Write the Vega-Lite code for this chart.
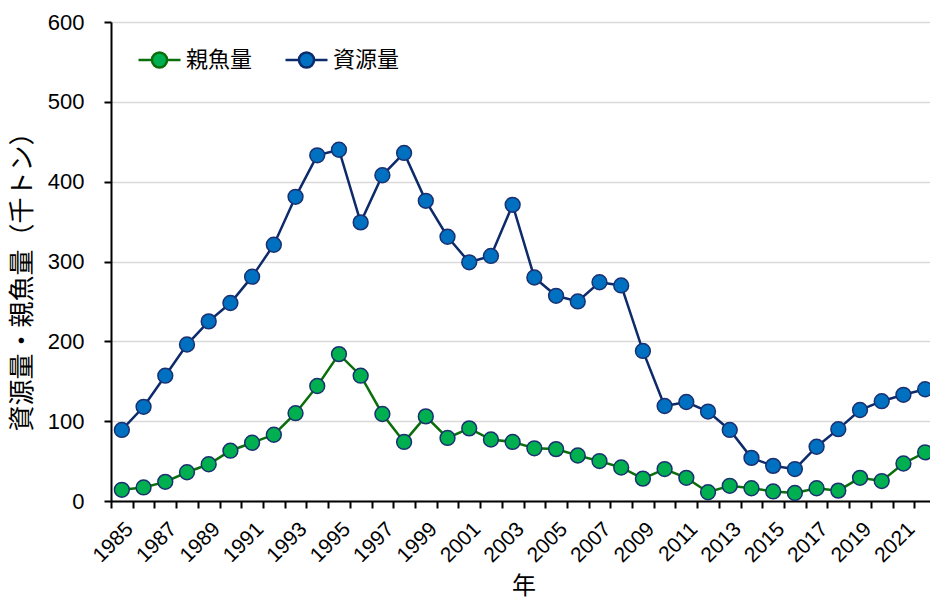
{
  "$schema": "https://vega.github.io/schema/vega-lite/v6.json",
  "width": 819,
  "height": 479,
  "autosize": "none",
  "padding": {"left": 111, "top": 22, "right": 0, "bottom": 103},
  "background": "white",
  "config": {
    "view": {"stroke": null},
    "font": "Liberation Sans",
    "axis": {"labelColor": "black", "titleColor": "black", "titleFontWeight": "normal"},
    "legend": {"labelFont": "Noto Sans CJK JP"}
  },
  "data": {
    "values": [
      {"year": "1985", "series": "資源量", "value": 89},
      {"year": "1986", "series": "資源量", "value": 118},
      {"year": "1987", "series": "資源量", "value": 157},
      {"year": "1988", "series": "資源量", "value": 196},
      {"year": "1989", "series": "資源量", "value": 225},
      {"year": "1990", "series": "資源量", "value": 248},
      {"year": "1991", "series": "資源量", "value": 281},
      {"year": "1992", "series": "資源量", "value": 321},
      {"year": "1993", "series": "資源量", "value": 381},
      {"year": "1994", "series": "資源量", "value": 433},
      {"year": "1995", "series": "資源量", "value": 440},
      {"year": "1996", "series": "資源量", "value": 349},
      {"year": "1997", "series": "資源量", "value": 408},
      {"year": "1998", "series": "資源量", "value": 436},
      {"year": "1999", "series": "資源量", "value": 376},
      {"year": "2000", "series": "資源量", "value": 331},
      {"year": "2001", "series": "資源量", "value": 299},
      {"year": "2002", "series": "資源量", "value": 307},
      {"year": "2003", "series": "資源量", "value": 371},
      {"year": "2004", "series": "資源量", "value": 280},
      {"year": "2005", "series": "資源量", "value": 257},
      {"year": "2006", "series": "資源量", "value": 250},
      {"year": "2007", "series": "資源量", "value": 274},
      {"year": "2008", "series": "資源量", "value": 270},
      {"year": "2009", "series": "資源量", "value": 188},
      {"year": "2010", "series": "資源量", "value": 119},
      {"year": "2011", "series": "資源量", "value": 124},
      {"year": "2012", "series": "資源量", "value": 112},
      {"year": "2013", "series": "資源量", "value": 89},
      {"year": "2014", "series": "資源量", "value": 54},
      {"year": "2015", "series": "資源量", "value": 44},
      {"year": "2016", "series": "資源量", "value": 40},
      {"year": "2017", "series": "資源量", "value": 68},
      {"year": "2018", "series": "資源量", "value": 90},
      {"year": "2019", "series": "資源量", "value": 114},
      {"year": "2020", "series": "資源量", "value": 125},
      {"year": "2021", "series": "資源量", "value": 133},
      {"year": "2022", "series": "資源量", "value": 140},
      {"year": "1985", "series": "親魚量", "value": 14},
      {"year": "1986", "series": "親魚量", "value": 17},
      {"year": "1987", "series": "親魚量", "value": 24},
      {"year": "1988", "series": "親魚量", "value": 36},
      {"year": "1989", "series": "親魚量", "value": 46},
      {"year": "1990", "series": "親魚量", "value": 63},
      {"year": "1991", "series": "親魚量", "value": 73},
      {"year": "1992", "series": "親魚量", "value": 83},
      {"year": "1993", "series": "親魚量", "value": 110},
      {"year": "1994", "series": "親魚量", "value": 144},
      {"year": "1995", "series": "親魚量", "value": 184},
      {"year": "1996", "series": "親魚量", "value": 157},
      {"year": "1997", "series": "親魚量", "value": 109},
      {"year": "1998", "series": "親魚量", "value": 74},
      {"year": "1999", "series": "親魚量", "value": 106},
      {"year": "2000", "series": "親魚量", "value": 79},
      {"year": "2001", "series": "親魚量", "value": 91},
      {"year": "2002", "series": "親魚量", "value": 77},
      {"year": "2003", "series": "親魚量", "value": 74},
      {"year": "2004", "series": "親魚量", "value": 66},
      {"year": "2005", "series": "親魚量", "value": 65},
      {"year": "2006", "series": "親魚量", "value": 57},
      {"year": "2007", "series": "親魚量", "value": 50},
      {"year": "2008", "series": "親魚量", "value": 42},
      {"year": "2009", "series": "親魚量", "value": 28},
      {"year": "2010", "series": "親魚量", "value": 40},
      {"year": "2011", "series": "親魚量", "value": 29},
      {"year": "2012", "series": "親魚量", "value": 11},
      {"year": "2013", "series": "親魚量", "value": 19},
      {"year": "2014", "series": "親魚量", "value": 16},
      {"year": "2015", "series": "親魚量", "value": 12},
      {"year": "2016", "series": "親魚量", "value": 10},
      {"year": "2017", "series": "親魚量", "value": 16},
      {"year": "2018", "series": "親魚量", "value": 13},
      {"year": "2019", "series": "親魚量", "value": 29},
      {"year": "2020", "series": "親魚量", "value": 25},
      {"year": "2021", "series": "親魚量", "value": 47},
      {"year": "2022", "series": "親魚量", "value": 61}
    ]
  },
  "encoding": {
    "x": {
      "field": "year",
      "type": "nominal",
      "scale": {"range": [0, 825], "paddingInner": 0, "paddingOuter": 0},
      "axis": {
        "title": "年",
        "titleFont": "Noto Sans CJK JP",
        "titleFontSize": 24,
        "titleBaseline": "top",
        "titleY": 73,
        "labelAngle": -45,
        "labelFontSize": 21,
        "labelPadding": 10,
        "labelOverlap": false,
        "labelExpr": "toNumber(datum.value) % 2 == 1 ? datum.label : ''",
        "tickBand": "extent",
        "tickColor": "black",
        "tickWidth": 2,
        "tickSize": 7,
        "domainColor": "black",
        "domainWidth": 2,
        "grid": false
      }
    },
    "y": {
      "field": "value",
      "type": "quantitative",
      "scale": {"domain": [0, 600], "nice": false},
      "axis": {
        "title": "資源量・親魚量（千トン）",
        "titleFont": "Noto Sans CJK JP",
        "titleFontSize": 26,
        "titlePadding": 12,
        "titleY": 253,
        "values": [0, 100, 200, 300, 400, 500, 600],
        "labelFontSize": 22,
        "labelPadding": 20,
        "tickColor": "black",
        "tickWidth": 2,
        "tickSize": 7,
        "domainColor": "black",
        "domainWidth": 2,
        "gridColor": "#D9D9D9",
        "gridWidth": 1.5
      }
    }
  },
  "layer": [
    {
      "mark": {"type": "line", "strokeWidth": 2.5},
      "encoding": {
        "stroke": {
          "field": "series",
          "type": "nominal",
          "scale": {"domain": ["親魚量", "資源量"], "range": ["#0A6E0A", "#0D2A6B"]},
          "legend": {
            "title": null,
            "orient": "none",
            "legendX": 26,
            "legendY": 15,
            "direction": "horizontal",
            "symbolType": "M-1,0H-0.36A0.36,0.36 0 1,1 0.36,0H1M0.36,0A0.36,0.36 0 1,1 -0.36,0",
            "symbolSize": 1764,
            "symbolStrokeWidth": 2.5,
            "labelFontSize": 22,
            "labelColor": "black",
            "labelOffset": 4,
            "columnPadding": 27
          }
        }
      }
    },
    {
      "mark": {"type": "point", "filled": true, "size": 220, "stroke": "#1A3070", "strokeWidth": 1.5, "opacity": 1},
      "encoding": {
        "fill": {
          "field": "series",
          "type": "nominal",
          "scale": {"domain": ["親魚量", "資源量"], "range": ["#00B050", "#0070C0"]},
          "legend": {
            "title": null,
            "orient": "none",
            "legendX": 26,
            "legendY": 15,
            "direction": "horizontal",
            "symbolType": "M-1,0H-0.36A0.36,0.36 0 1,1 0.36,0H1M0.36,0A0.36,0.36 0 1,1 -0.36,0",
            "symbolSize": 1764,
            "symbolStrokeWidth": 2.5,
            "labelFontSize": 22,
            "labelColor": "black",
            "labelOffset": 4,
            "columnPadding": 27
          }
        }
      }
    }
  ]
}
